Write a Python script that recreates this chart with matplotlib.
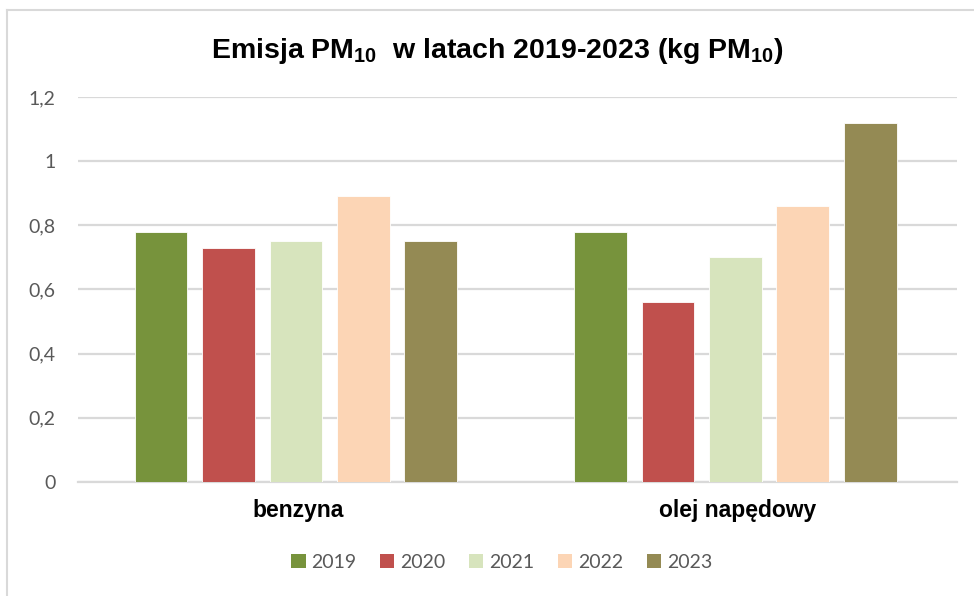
import matplotlib.pyplot as plt
import numpy as np
from matplotlib.lines import Line2D
from matplotlib.patches import Patch

plt.rcParams['mathtext.fontset'] = 'custom'
plt.rcParams['mathtext.default'] = 'regular'

categories = ['benzyna', 'olej napędowy']
years = ['2019', '2020', '2021', '2022', '2023']
values = {
    '2019': [0.78, 0.78],
    '2020': [0.73, 0.56],
    '2021': [0.75, 0.70],
    '2022': [0.89, 0.86],
    '2023': [0.75, 1.12],
}
colors = ['#77933C', '#C0504D', '#D7E4BD', '#FCD5B5', '#948A54']
yticks = [0, 0.2, 0.4, 0.6, 0.8, 1.0, 1.2]
ytick_labels = ['0', '0,2', '0,4', '0,6', '0,8', '1', '1,2']

fig = plt.figure(figsize=(9.74, 5.96), dpi=100)
ax = fig.add_axes([0.080, 0.1913, 0.9025, 0.646])

x = np.arange(len(categories))
step = 0.1534
width = 0.12
for i, (year, color) in enumerate(zip(years, colors)):
    ax.bar(x + (i - 2) * step - 0.004, values[year], width, color=color,
           edgecolor='white', linewidth=0.6, label=year, zorder=3)

ax.set_xlim(-0.5, 1.5)
ax.set_ylim(0, 1.2)
ax.set_yticks(yticks)
ax.set_yticklabels(ytick_labels, fontsize=14, color='#595959', family='Lato')
ax.set_xticks(x)
ax.set_xticklabels(categories, fontsize=16.5, fontweight='bold', family='Liberation Sans')
ax.tick_params(axis='both', length=0)
ax.tick_params(axis='y', pad=16)
ax.tick_params(axis='x', pad=12)
ax.grid(axis='y', color='#D9D9D9', linewidth=1.6, zorder=0)
for side in ['top', 'right', 'left']:
    ax.spines[side].set_visible(False)
ax.spines['bottom'].set_color('#D9D9D9')
ax.spines['bottom'].set_linewidth(1.6)

fig.text(0.511, 0.915, r'Emisja PM$_{10}$  w latach 2019-2023 (kg PM$_{10}$)',
         ha='center', va='center', fontsize=20.5, fontweight='bold',
         family='Liberation Sans')

handles = [Patch(facecolor=c, edgecolor='none') for c in colors]
fig.legend(handles, years, loc='center', bbox_to_anchor=(0.515, 0.057), ncol=5,
           frameon=False, handlelength=0.75, handleheight=0.75, handletextpad=0.3,
           columnspacing=1.2, prop={'family': 'Lato', 'size': 14},
           labelcolor='#595959')

# chart border
fig.add_artist(Line2D([7 / 974, 7 / 974], [0, 1 - 10 / 596], color='#D9D9D9', linewidth=1.5))
fig.add_artist(Line2D([7 / 974, 1], [1 - 10 / 596, 1 - 10 / 596], color='#D9D9D9', linewidth=1.5))

fig.savefig('out.png', dpi=100)
